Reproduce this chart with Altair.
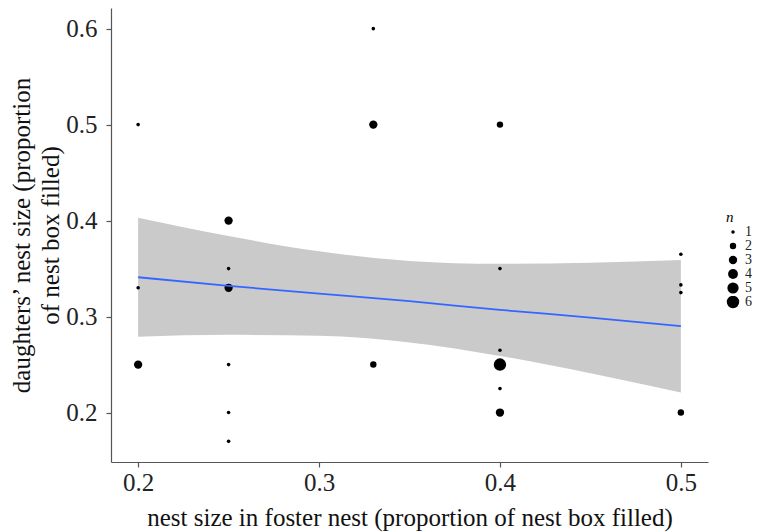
import altair as alt
import pandas as pd

# Observed points: foster nest size, daughters' nest size, count n
pt_x = [0.2, 0.2, 0.2, 0.25, 0.25, 0.25, 0.25, 0.25, 0.25, 0.33, 0.33, 0.33,
        0.4, 0.4, 0.4, 0.4, 0.4, 0.4, 0.5, 0.5, 0.5, 0.5]
pt_y = [0.5, 0.33, 0.25, 0.4, 0.35, 0.33, 0.25, 0.2, 0.17, 0.6, 0.5, 0.25,
        0.5, 0.35, 0.265, 0.25, 0.225, 0.2, 0.365, 0.333, 0.325, 0.2]
pt_n = [1, 1, 3, 3, 1, 3, 1, 1, 1, 1, 3, 2,
        2, 1, 1, 6, 1, 3, 1, 1, 1, 2]

# Fitted line and confidence band
band_x = [0.2, 0.25, 0.3, 0.35, 0.4, 0.45, 0.5]
band_lo = [0.279, 0.281, 0.280, 0.273, 0.259, 0.241, 0.221]
band_hi = [0.403, 0.384, 0.368, 0.358, 0.355, 0.356, 0.359]
fit_y = [0.341, 0.332, 0.324, 0.316, 0.307, 0.299, 0.290]

x_ticks = [0.2, 0.3, 0.4, 0.5]
y_ticks = [0.2, 0.3, 0.4, 0.5, 0.6]
legend_vals = [1, 2, 3, 4, 5, 6]

pts = pd.DataFrame({"x": pt_x, "y": pt_y, "n": pt_n})
band = pd.DataFrame({"x": band_x, "lo": band_lo, "hi": band_hi, "fit": fit_y})

FONT = "Liberation Serif"
xdom = [0.185, 0.515]
ydom = [0.1485, 0.6215]

xscale = alt.Scale(domain=xdom, nice=False, zero=False)
yscale = alt.Scale(domain=ydom, nice=False, zero=False)

xaxis = alt.Axis(values=x_ticks, format=".1f", title="nest size in foster nest (proportion of nest box filled)",
                 grid=False, tickSize=5, labelPadding=3, titleY=63, titleBaseline="alphabetic")
yaxis = alt.Axis(values=y_ticks, format=".1f",
                 title=["daughters\u2019 nest size (proportion", "of nest box filled)"],
                 grid=False, tickSize=5, labelPadding=9, titleX=-82, titleBaseline="alphabetic",
                 titleLineHeight=29)

area = alt.Chart(band).mark_area(color="#CACACA", opacity=1, interpolate="monotone").encode(
    x=alt.X("x:Q", scale=xscale, axis=xaxis),
    y=alt.Y("lo:Q", scale=yscale, axis=yaxis),
    y2="hi:Q",
)

line = alt.Chart(band).mark_line(color="#3366FF", strokeWidth=1.8, interpolate="monotone").encode(
    x=alt.X("x:Q", scale=xscale),
    y=alt.Y("fit:Q", scale=yscale),
)

points = alt.Chart(pts).mark_circle(color="black", opacity=1).encode(
    x=alt.X("x:Q", scale=xscale),
    y=alt.Y("y:Q", scale=yscale),
    size=alt.Size("n:Q", scale=alt.Scale(domain=[1, 6], range=[13, 154]),
                  legend=alt.Legend(title="n", values=legend_vals, orient="none",
                                    legendX=615, legendY=202, titleFontStyle="italic",
                                    titleFont=FONT, titleFontSize=15, titleFontWeight="normal",
                                    labelFont=FONT, labelFontSize=14, rowPadding=0,
                                    clipHeight=12, labelColor="#222222",
                                    symbolFillColor="black", symbolStrokeWidth=0,
                                    labelOffset=5, titlePadding=1)),
)

chart = alt.layer(area, points, line).properties(
    width=597, height=454,
    padding={"left": 103, "top": 0, "right": 44, "bottom": 70},
    autosize=alt.AutoSizeParams(type="none"),
    background="white",
).configure_view(stroke=None).configure_axis(
    labelFont=FONT, titleFont=FONT, labelFontSize=25, titleFontSize=25,
    titleFontWeight="normal", labelColor="#222222", titleColor="#111111",
    domainColor="#555555", tickColor="#555555", domainWidth=1.2, tickWidth=1.2,
)

chart.save("out.html", embed_options={"renderer": "svg", "actions": False})
